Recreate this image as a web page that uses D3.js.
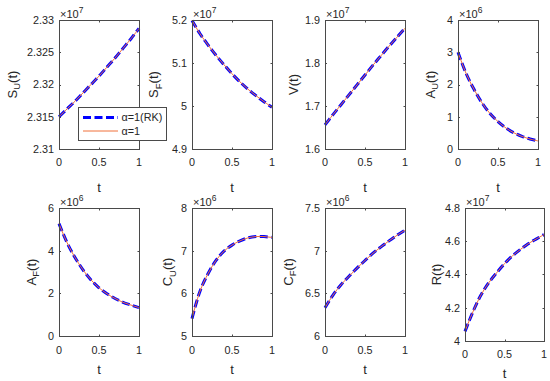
<!DOCTYPE html>
<html><head><meta charset="utf-8">
<script src="https://cdn.jsdelivr.net/npm/d3@7"></script>
<style>
html,body{margin:0;padding:0;background:#fff;}
svg{display:block;font-family:"Liberation Sans",Arial,Helvetica,sans-serif;}
</style></head>
<body>
<svg id="chart" width="550" height="381"></svg>
<script>
// ---- data ----
const tValues = [0, 0.1, 0.2, 0.3, 0.4, 0.5, 0.6, 0.7, 0.8, 0.9, 1.0];
const xTicks = [0, 0.5, 1];
const seriesNames = ["\u03b1=1(RK)", "\u03b1=1"];

const suValues = [2.3150, 2.3162, 2.3174, 2.3187, 2.3200, 2.3213, 2.3227, 2.3241, 2.3256, 2.3271, 2.3287];
const sfValues = [5.199, 5.168, 5.142, 5.118, 5.096, 5.075, 5.056, 5.039, 5.024, 5.010, 4.997];
const vValues  = [1.656, 1.680, 1.703, 1.726, 1.749, 1.772, 1.795, 1.817, 1.839, 1.860, 1.881];
const auValues = [3.00, 2.35, 1.85, 1.43, 1.10, 0.85, 0.65, 0.50, 0.39, 0.31, 0.25];
const afValues = [5.27, 4.38, 3.68, 3.10, 2.63, 2.26, 1.98, 1.76, 1.58, 1.45, 1.33];
const cuValues = [5.41, 6.05, 6.46, 6.77, 6.99, 7.13, 7.23, 7.30, 7.33, 7.33, 7.31];
const cfValues = [6.33, 6.48, 6.60, 6.70, 6.795, 6.885, 6.97, 7.045, 7.115, 7.18, 7.24];
const rValues  = [4.058, 4.175, 4.275, 4.35, 4.41, 4.465, 4.512, 4.55, 4.585, 4.613, 4.64];

const suTicks = [2.31, 2.315, 2.32, 2.325, 2.33];
const sfTicks = [4.9, 5, 5.1, 5.2];
const vTicks  = [1.6, 1.7, 1.8, 1.9];
const auTicks = [0, 1, 2, 3, 4];
const afTicks = [0, 2, 4, 6];
const cuTicks = [5, 6, 7, 8];
const cfTicks = [6, 6.5, 7, 7.5];
const rTicks  = [4, 4.2, 4.4, 4.6, 4.8];

const panelData = [
  {main:"S", sub:"U", values:suValues, ticks:suTicks, exp:"7"},
  {main:"S", sub:"F", values:sfValues, ticks:sfTicks, exp:"7"},
  {main:"V", sub:"",  values:vValues,  ticks:vTicks,  exp:"7"},
  {main:"A", sub:"U", values:auValues, ticks:auTicks, exp:"6"},
  {main:"A", sub:"F", values:afValues, ticks:afTicks, exp:"6"},
  {main:"C", sub:"U", values:cuValues, ticks:cuTicks, exp:"6"},
  {main:"C", sub:"F", values:cfValues, ticks:cfTicks, exp:"6"},
  {main:"R", sub:"",  values:rValues,  ticks:rTicks,  exp:"7"}
];

// ---- layout ----
const layout = [
  {x:59,  y:20,  w:80, h:129, ylabX:12,    xtDy:16.5, xlDy:43},
  {x:192, y:20,  w:80, h:129, ylabX:153.5, xtDy:16.5, xlDy:43},
  {x:325, y:20,  w:80, h:129, ylabX:293,   xtDy:16.5, xlDy:43},
  {x:458, y:20,  w:80, h:129, ylabX:430,   xtDy:16.5, xlDy:43},
  {x:59,  y:208, w:80, h:128, ylabX:31,    xtDy:17.5, xlDy:37.5},
  {x:192, y:208, w:80, h:128, ylabX:167.5, xtDy:17.5, xlDy:37.5},
  {x:325, y:208, w:80, h:128, ylabX:288,   xtDy:17.5, xlDy:37.5},
  {x:465, y:208, w:79, h:133, ylabX:436,   xtDy:16.5, xlDy:37}
];

const blue = "#0000ff", orange = "#f0703a", axisCol = "#4a4a4a", textCol = "#262626";
const tickFs = 10.8, labFs = 13;

const svg = d3.select("#chart");

panelData.forEach((p, i) => {
  const L = layout[i];
  const x = d3.scaleLinear().domain([0, 1]).range([L.x, L.x + L.w]);
  const y = d3.scaleLinear().domain([p.ticks[0], p.ticks[p.ticks.length-1]]).range([L.y + L.h, L.y]);
  const g = svg.append("g");

  const line = d3.line().x((d, k) => x(tValues[k])).y(d => y(d)).curve(d3.curveCatmullRom.alpha(0.5));

  // blue dashed (RK)
  g.append("path").attr("d", line(p.values)).attr("fill", "none")
    .attr("stroke", blue).attr("stroke-width", 3).attr("stroke-dasharray", "8,3.5");
  // orange solid
  g.append("path").attr("d", line(p.values)).attr("fill", "none")
    .attr("stroke", orange).attr("stroke-width", 1);

  // box
  g.append("rect").attr("x", L.x + 0.5).attr("y", L.y + 0.5)
    .attr("width", L.w).attr("height", L.h)
    .attr("fill", "none").attr("stroke", axisCol).attr("stroke-width", 1);

  // y ticks (inside, mirrored)
  p.ticks.forEach(v => {
    const yy = Math.round(y(v)) + 0.5;
    g.append("line").attr("x1", L.x).attr("x2", L.x + 2).attr("y1", yy).attr("y2", yy).attr("stroke", axisCol);
    g.append("line").attr("x1", L.x + L.w - 1.5).attr("x2", L.x + L.w + 0.5).attr("y1", yy).attr("y2", yy).attr("stroke", axisCol);
    g.append("text").attr("x", L.x - 5).attr("y", y(v)).attr("dy", "0.36em")
      .attr("text-anchor", "end").attr("font-size", tickFs).attr("fill", textCol).text(String(v));
  });
  // x ticks
  xTicks.forEach(v => {
    const xx = Math.round(x(v)) + 0.5;
    g.append("line").attr("x1", xx).attr("x2", xx).attr("y1", L.y + L.h + 0.5).attr("y2", L.y + L.h - 1.5).attr("stroke", axisCol);
    g.append("line").attr("x1", xx).attr("x2", xx).attr("y1", L.y + 0.5).attr("y2", L.y + 2.5).attr("stroke", axisCol);
    g.append("text").attr("x", x(v)).attr("y", L.y + L.h + L.xtDy)
      .attr("text-anchor", "middle").attr("font-size", tickFs).attr("fill", textCol).text(String(v));
  });
  // x label
  g.append("text").attr("x", L.x + L.w / 2).attr("y", L.y + L.h + L.xlDy)
    .attr("text-anchor", "middle").attr("font-size", labFs).attr("fill", textCol).text("t");

  // exponent
  const ex = g.append("text").attr("x", L.x + 1).attr("y", L.y - 2.5)
    .attr("font-size", 11).attr("fill", textCol);
  ex.append("tspan").text("\u00d710");
  ex.append("tspan").attr("font-size", 8.5).attr("dy", -5).text(p.exp);

  // y label
  const yl = g.append("text")
    .attr("transform", `translate(${L.ylabX},${L.y + L.h / 2}) rotate(-90)`)
    .attr("y", 0.36 * labFs)
    .attr("text-anchor", "middle").attr("font-size", labFs).attr("fill", textCol);
  yl.append("tspan").text(p.main);
  if (p.sub) {
    yl.append("tspan").attr("font-size", 9.5).attr("dy", 3.5).text(p.sub);
    yl.append("tspan").attr("dy", -3.5).text("(t)");
  } else {
    yl.append("tspan").text("(t)");
  }
});

// legend in first panel
const leg = svg.append("g");
leg.append("rect").attr("x", 78.5).attr("y", 107.5).attr("width", 88).attr("height", 33)
  .attr("fill", "#fff").attr("stroke", axisCol).attr("stroke-width", 1);
const legRows = [
  {name: seriesNames[0], color: blue, w: 3, dash: "8,3.5", cy: 117.5},
  {name: seriesNames[1], color: orange, w: 1, dash: null, cy: 131}
];
legRows.forEach(r => {
  leg.append("line").attr("x1", 83).attr("x2", 118).attr("y1", r.cy).attr("y2", r.cy)
    .attr("stroke", r.color).attr("stroke-width", r.w).attr("stroke-dasharray", r.dash);
  leg.append("text").attr("x", 121.5).attr("y", r.cy).attr("dy", "0.36em")
    .attr("font-size", tickFs).attr("fill", textCol).text(r.name);
});
</script>
</body></html>
